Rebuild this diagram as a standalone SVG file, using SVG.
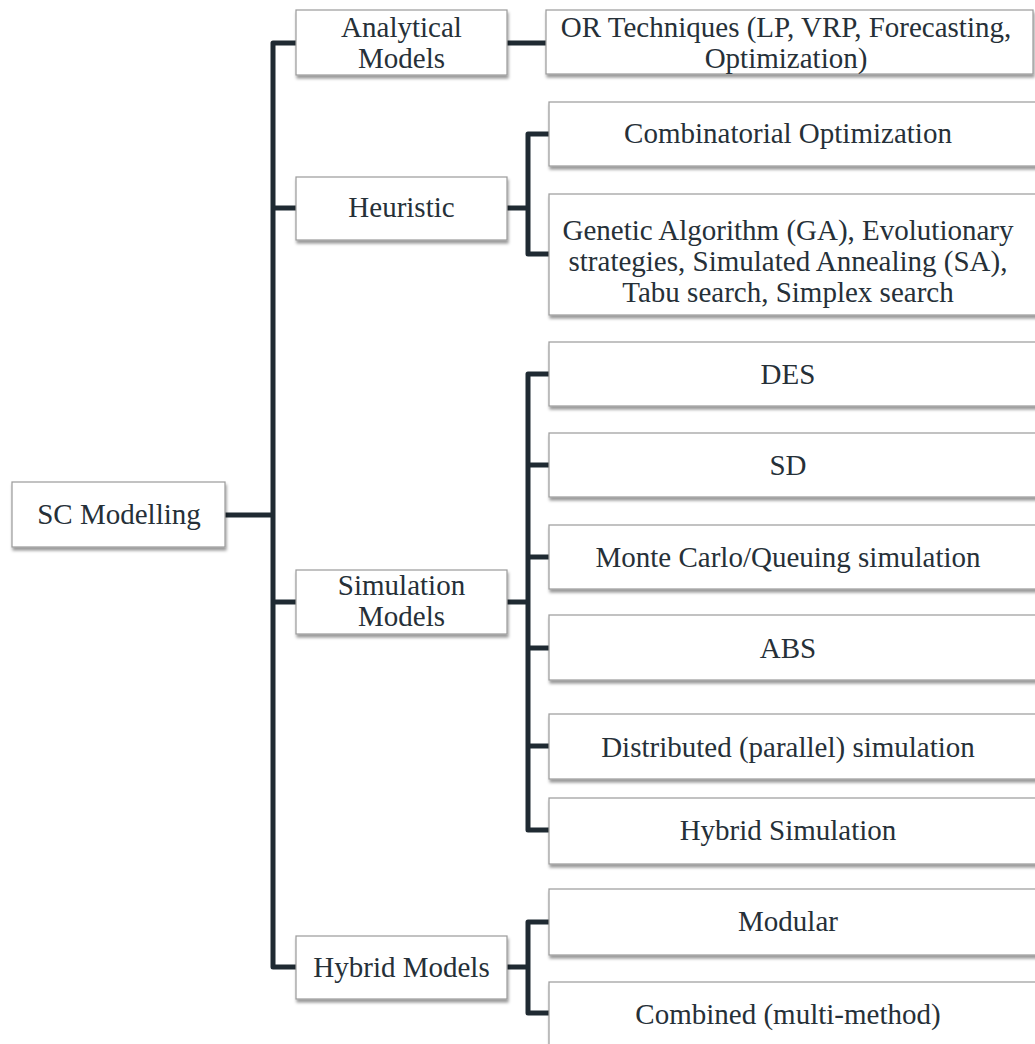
<svg xmlns="http://www.w3.org/2000/svg" width="1035" height="1044" viewBox="0 0 1035 1044">
<defs>
<filter id="sh" x="-5%" y="-10%" width="110%" height="130%">
<feDropShadow dx="1" dy="3" stdDeviation="1.5" flood-color="#000" flood-opacity="0.4"/>
</filter>
</defs>
<style>
.box{fill:#fff;stroke:#9a9a9a;stroke-width:1.2;filter:url(#sh)}
text{font-family:'Liberation Serif','Times New Roman',Times,serif;font-size:29px;fill:#263038;text-anchor:middle}
.c{fill:none;stroke:#1f2a32;stroke-width:5;stroke-linejoin:round}
</style>
<rect width="1035" height="1044" fill="#fff"/>
<g id="connectors">
<path class="c" d="M225,515 H273"/>
<path class="c" d="M296,43 H273 V967 H296"/>
<path class="c" d="M273,208 H296"/>
<path class="c" d="M273,602 H296"/>
<path class="c" d="M507,43 H546"/>
<path class="c" d="M507,208 H528"/>
<path class="c" d="M549,134 H528 V254 H549"/>
<path class="c" d="M507,602 H528"/>
<path class="c" d="M549,374 H528 V830 H549"/>
<path class="c" d="M528,465 H549"/>
<path class="c" d="M528,557 H549"/>
<path class="c" d="M528,648 H549"/>
<path class="c" d="M528,746 H549"/>
<path class="c" d="M507,967 H528"/>
<path class="c" d="M549,922 H528 V1013 H549"/>
</g>
<g id="sc-modelling">
<rect class="box" x="12" y="482" width="213" height="65"/>
<text x="119" y="524">SC Modelling</text>
</g>
<g id="analytical-models">
<rect class="box" x="296" y="10" width="211" height="65"/>
<text x="401.5" y="37">Analytical</text>
<text x="401.5" y="68">Models</text>
</g>
<g id="or-techniques">
<rect class="box" x="546" y="10" width="487" height="64"/>
<text x="786" y="37">OR Techniques (LP, VRP, Forecasting,</text>
<text x="786" y="68">Optimization)</text>
</g>
<g id="heuristic">
<rect class="box" x="296" y="177" width="211" height="63"/>
<text x="401.5" y="217">Heuristic</text>
</g>
<g id="combinatorial">
<rect class="box" x="549" y="102" width="492" height="64"/>
<text x="788" y="143">Combinatorial Optimization</text>
</g>
<g id="genetic">
<rect class="box" x="549" y="194" width="492" height="121"/>
<text x="788" y="240">Genetic Algorithm (GA), Evolutionary</text>
<text x="788" y="271">strategies, Simulated Annealing (SA),</text>
<text x="788" y="302">Tabu search, Simplex search</text>
</g>
<g id="simulation-models">
<rect class="box" x="296" y="570" width="211" height="64"/>
<text x="401.5" y="595">Simulation</text>
<text x="401.5" y="626">Models</text>
</g>
<g id="des">
<rect class="box" x="549" y="342" width="492" height="64"/>
<text x="788" y="384">DES</text>
</g>
<g id="sd">
<rect class="box" x="549" y="433" width="492" height="64"/>
<text x="788" y="475">SD</text>
</g>
<g id="monte-carlo">
<rect class="box" x="549" y="525" width="492" height="64"/>
<text x="788" y="567">Monte Carlo/Queuing simulation</text>
</g>
<g id="abs">
<rect class="box" x="549" y="615" width="492" height="65"/>
<text x="788" y="658">ABS</text>
</g>
<g id="distributed">
<rect class="box" x="549" y="714" width="492" height="65"/>
<text x="788" y="757">Distributed (parallel) simulation</text>
</g>
<g id="hybrid-simulation">
<rect class="box" x="549" y="798" width="492" height="66"/>
<text x="788" y="840">Hybrid Simulation</text>
</g>
<g id="hybrid-models">
<rect class="box" x="296" y="936" width="211" height="63"/>
<text x="401.5" y="977">Hybrid Models</text>
</g>
<g id="modular">
<rect class="box" x="549" y="889" width="492" height="66"/>
<text x="788" y="931">Modular</text>
</g>
<g id="combined">
<rect class="box" x="549" y="982" width="492" height="80"/>
<text x="788" y="1024">Combined (multi-method)</text>
</g>
</svg>
